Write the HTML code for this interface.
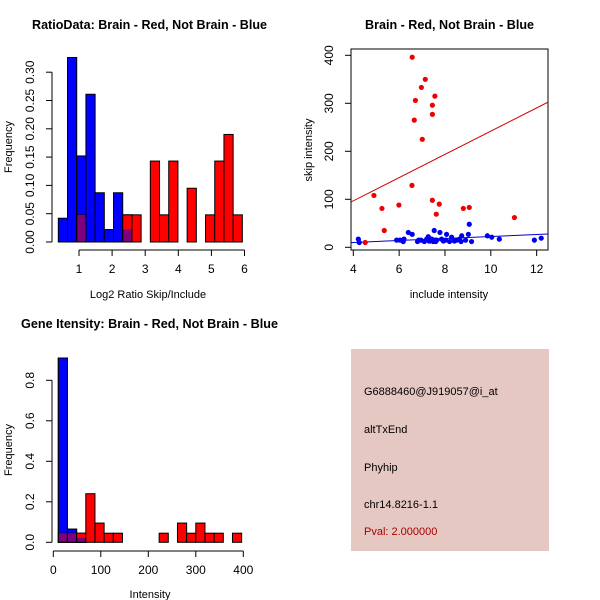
<!DOCTYPE html>
<html><head><meta charset="utf-8"><style>
html,body{margin:0;padding:0;background:#fff}
svg{display:block;font-family:"Liberation Sans",sans-serif}
</style></head><body>
<svg id="c" width="600" height="600" viewBox="0 0 600 600"></svg>
<script>
// ---- Panel 1: ratio histogram ----
const ratioBinStart = 0.375;
const ratioBinWidth = 0.278;
const ratioBlue = [0.042,0.326,0.152,0.261,0.087,0.022,0.087,0.022];
const ratioRed = [0,0,0.048,0,0,0,0,0.048,0.048,0,0.143,0.048,0.143,0,0.095,0,0.048,0.143,0.19,0.048];
const ratioYTicks = ["0.00","0.05","0.10","0.15","0.20","0.25","0.30"];
const ratioXTicks = [1,2,3,4,5,6];
// ---- Panel 2: scatter ----
const redX = [6.57,7.14,6.97,7.56,6.71,7.45,7.45,6.66,7.01,6.56,4.90,5.25,5.99,7.45,7.75,7.62,8.80,9.06,5.35,4.52,11.03];
const redY = [396,350,333,315,306,296,277,265,225,129,108,81,88,98,90,69,81,83,35,10,62];
const blueX = [4.22,4.26,5.89,6.04,6.21,6.18,6.40,6.57,6.85,6.95,7.20,7.27,7.35,7.42,7.49,7.56,7.53,7.64,7.78,7.85,7.93,8.07,8.03,8.29,8.41,8.51,8.63,8.73,8.90,9.02,9.06,9.16,9.85,10.04,10.37,11.9,12.2,7.3,7.6,8.2,8.7,6.8,7.1];
const blueY = [17,10,15,15,17,12,31,27,15,15,17,22,13,17,12,15,35,15,31,17,13,27,15,21,13,15,17,24,15,27,48,12,24,21,17,15,19,13,12,12,12,12,12];
const redFit = [0, 24.2];   // intercept, slope
const blueFit = [1.7, 2.08];
const scatXTicks = [4,6,8,10,12];
const scatYTicks = [0,100,200,300,400];
// ---- Panel 3: intensity histogram ----
const intBinStart = 10.5;
const intBinWidth = 19.3;
const intBlue = [0.91,0.065,0.022];
const intRed = [0.045,0.045,0.045,0.24,0.095,0.045,0.045,0,0,0,0,0.045,0,0.095,0.045,0.095,0.045,0.045,0,0.045];
const intYTicks = ["0.0","0.2","0.4","0.6","0.8"];
const intXTicks = [0,100,200,300,400];

const svg = document.getElementById('c');
const NS = 'http://www.w3.org/2000/svg';
function mk(tag, attrs, parent){ const e=document.createElementNS(NS,tag); for(const k in attrs) e.setAttribute(k,attrs[k]); (parent||svg).appendChild(e); return e; }
function txt(s, attrs, parent){ const e=mk('text',attrs,parent); e.textContent=s; return e; }

function group(name){ const g=mk('g',{});
  
  
  return g; }

function title(s,x,y,len,name){ const t=txt(s,{x:x,y:y,'font-size':13,'font-weight':'bold',textLength:len,lengthAdjust:'spacingAndGlyphs'});
  
   }

function yAxis(g, ticks, ys, x, y0, y1, labels){
  const l=mk('line',{x1:x,x2:x,y1:y0,y2:y1,stroke:'#000'},g);
  
  
  ticks.forEach((v,i)=>{ const y=ys(v);
    mk('line',{x1:x-6,x2:x,y1:y,y2:y,stroke:'#000'},g);
    const t=txt(labels[i],{x:x-18,y:y,'font-size':12,'text-anchor':'middle',transform:`rotate(-90 ${x-18} ${y})`},g);
    
    
  });
}
function xAxis(g, ticks, xs, y, x0, x1){
  const l=mk('line',{x1:x0,x2:x1,y1:y,y2:y,stroke:'#000'},g);
  
  
  ticks.forEach(v=>{ const x=xs(v);
    mk('line',{x1:x,x2:x,y1:y,y2:y+6,stroke:'#000'},g);
    const t=txt(String(v),{x:x,y:y+23,'font-size':12,'text-anchor':'middle'},g);
    
    
  });
}
function hist(g, start, w, blue, red, xs, ys){
  const y0=ys(0);
  blue.forEach((v,i)=>{ if(!v) return; const xa=xs(start+i*w), xb=xs(start+(i+1)*w);
    const r=mk('rect',{x:xa,y:ys(v),width:xb-xa,height:y0-ys(v),fill:'#0000ff',stroke:'#000','stroke-width':1},g);
    
     });
  red.forEach((v,i)=>{ if(!v) return; const xa=xs(start+i*w), xb=xs(start+(i+1)*w);
    const b=blue[i]||0;
    const r=mk('rect',{x:xa,y:ys(v),width:xb-xa,height:y0-ys(v),fill:b>0?'none':'#ff0000',stroke:'#000','stroke-width':1},g);
    
    
    if(b>0){ const m=Math.min(b,v);
      if(v>b){ mk('rect',{x:xa+0.5,y:ys(v)+0.5,width:xb-xa-1,height:ys(b)-ys(v),fill:'#ff0000'},g); }
      const o=mk('rect',{x:xa+0.5,y:ys(m),width:xb-xa-1,height:y0-ys(m)-0.5,fill:'#7f007f'},g);
      
      
      mk('rect',{x:xa,y:ys(Math.max(b,v)),width:xb-xa,height:y0-ys(Math.max(b,v)),fill:'none',stroke:'#000'},g);
    }
  });
}

// Panel 1
title('RatioData: Brain - Red, Not Brain - Blue',32,29,235,'ratio-title');
{ const g=group('ratio-histogram');
  const xs=v=>79+(v-1)*33.1, ys=v=>242-v*566;
  hist(g,ratioBinStart,ratioBinWidth,ratioBlue,ratioRed,xs,ys);
  yAxis(g,ratioYTicks.map(Number),ys,52,ys(0),ys(0.3),ratioYTicks);
  xAxis(g,ratioXTicks,xs,250,xs(1),xs(6));
  const xl=txt('Log2 Ratio Skip/Include',{x:148,y:298,'font-size':11,'text-anchor':'middle'},g);
   
  const yl=txt('Frequency',{x:12,y:147,'font-size':11,'text-anchor':'middle',transform:'rotate(-90 12 147)'},g);
   
}
// Panel 2
title('Brain - Red, Not Brain - Blue',365,29,169,'scatter-title');
{ const g=group('scatter-plot');
  const xs=v=>353.3+(v-4)*22.92, ys=v=>247.3-v*0.48;
  const box=mk('rect',{x:351,y:49,width:197,height:201,fill:'none',stroke:'#000'},g);
   
  const cp=mk('clipPath',{id:'cp'},g); mk('rect',{x:351,y:49,width:197,height:201},cp);
  [[redFit,'#cc0000','fit-line-red'],[blueFit,'#0000cc','fit-line-blue']].forEach(([f,c,n])=>{
    const l=mk('line',{x1:xs(3.8),y1:ys(f[0]+f[1]*3.8),x2:xs(12.5),y2:ys(f[0]+f[1]*12.5),stroke:c,'stroke-width':1,'clip-path':'url(#cp)'},g);
      });
  blueX.forEach((x,i)=>{ const p=mk('circle',{cx:xs(x),cy:ys(blueY[i]),r:2.6,fill:'#0000ee'},g);
      });
  redX.forEach((x,i)=>{ const p=mk('circle',{cx:xs(x),cy:ys(redY[i]),r:2.6,fill:'#ee0000'},g);
      });
  yAxis(g,scatYTicks,ys,351,ys(0),ys(400),scatYTicks.map(String));
  xAxis(g,scatXTicks,xs,250,xs(4),xs(12));
  const xl=txt('include intensity',{x:449,y:298,'font-size':11,'text-anchor':'middle'},g);
   
  const yl=txt('skip intensity',{x:312,y:150,'font-size':11,'text-anchor':'middle',transform:'rotate(-90 312 150)'},g);
   
}
// Panel 3
title('Gene Itensity: Brain - Red, Not Brain - Blue',21,328,257,'intensity-title');
{ const g=group('intensity-histogram');
  const xs=v=>53.3+v*0.475, ys=v=>542.3-v*202.5;
  hist(g,intBinStart,intBinWidth,intBlue,intRed,xs,ys);
  yAxis(g,intYTicks.map(Number),ys,52,ys(0),ys(0.8),intYTicks);
  xAxis(g,intXTicks,xs,551,xs(0),xs(400));
  const xl=txt('Intensity',{x:150,y:598,'font-size':11,'text-anchor':'middle'},g);
   
  const yl=txt('Frequency',{x:12,y:450,'font-size':11,'text-anchor':'middle',transform:'rotate(-90 12 450)'},g);
   
}
// Panel 4: info box
{ const g=group('info-panel');
  mk('rect',{x:351,y:349,width:198,height:202,fill:'#e6c8c2'},g);
  const lines=[['G6888460@J919057@i_at',395,'#000','probe-id'],['altTxEnd',433,'#000','event-type'],['Phyhip',471,'#000','gene-name'],['chr14.8216-1.1',508,'#000','locus'],['Pval: 2.000000',535,'#aa0000','p-value']];
  lines.forEach(([s,y,c,n])=>{ const t=txt(s,{x:364,y:y,'font-size':11,fill:c},g);
      });
}
</script>
</body></html>
